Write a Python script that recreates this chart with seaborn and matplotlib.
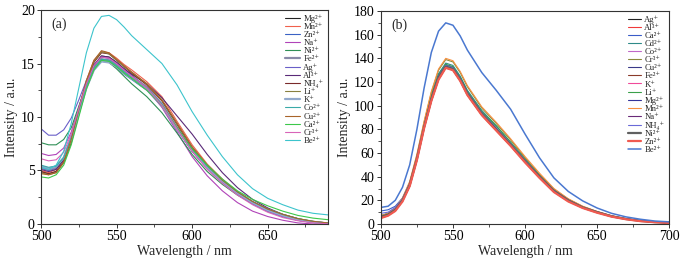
import matplotlib
matplotlib.use("Agg")
import matplotlib.pyplot as plt
import seaborn as sns
from matplotlib.ticker import MultipleLocator

# ---- panel (a) data ----
wl_a = [500, 505, 510, 515, 520, 525, 530, 535, 540, 545, 550, 555, 560,
        570, 580, 590, 600, 610, 620, 630, 640, 650, 660, 670, 680, 690]

ions_a = ["Mg²⁺", "Mn²⁺", "Zn²⁺", "Na⁺", "Ni²⁺", "Fe²⁺", "Ag⁺", "Al³⁺", "NH₄⁺",
          "Li⁺", "K⁺", "Co²⁺", "Cu²⁺", "Ca²⁺", "Cr³⁺", "Be²⁺"]

mg_a = [4.9, 4.7, 4.9, 5.8, 7.6, 10.2, 12.9, 14.8, 15.7, 15.6, 15.1, 14.5, 13.9, 12.7, 11.0, 8.9, 6.8, 5.2, 3.9, 2.8, 1.9, 1.2, 0.7, 0.35, 0.15, 0.02]
mn_a = [5.0, 4.8, 5.1, 6.1, 8.1, 10.8, 13.4, 15.3, 16.1, 16.0, 15.5, 14.9, 14.4, 13.3, 11.9, 9.6, 7.4, 5.6, 4.2, 3.0, 2.0, 1.3, 0.8, 0.4, 0.2, 0.05]
zn_a = [5.2, 5.0, 5.2, 6.0, 7.9, 10.4, 12.7, 14.4, 15.2, 15.1, 14.6, 14.0, 13.5, 12.5, 11.0, 8.8, 6.8, 5.2, 3.9, 2.8, 1.9, 1.2, 0.7, 0.35, 0.15, 0.03]
na_a = [6.6, 6.4, 6.5, 7.1, 8.6, 10.9, 13.2, 14.9, 15.6, 15.5, 15.0, 14.4, 13.8, 12.6, 10.9, 8.6, 6.3, 4.5, 3.1, 2.0, 1.2, 0.7, 0.35, 0.1, 0.0, 0.0]
ni_a = [7.6, 7.4, 7.4, 7.9, 9.0, 11.0, 13.0, 14.6, 15.3, 15.1, 14.5, 13.8, 13.1, 11.9, 10.4, 8.5, 6.5, 4.9, 3.7, 2.7, 1.9, 1.3, 0.8, 0.45, 0.2, 0.05]
fe_a = [5.3, 5.1, 5.3, 6.1, 8.0, 10.5, 12.9, 14.6, 15.4, 15.3, 14.9, 14.3, 13.8, 12.8, 11.2, 9.0, 6.9, 5.3, 4.0, 2.9, 2.0, 1.3, 0.8, 0.4, 0.18, 0.04]
ag_a = [8.9, 8.3, 8.3, 8.8, 9.9, 11.6, 13.4, 14.9, 15.6, 15.5, 15.0, 14.4, 13.8, 12.7, 11.1, 8.9, 6.8, 5.2, 3.9, 2.8, 1.9, 1.2, 0.7, 0.35, 0.15, 0.02]
al_a = [5.1, 4.9, 5.1, 6.0, 7.9, 10.4, 12.9, 14.8, 15.7, 15.6, 15.1, 14.5, 14.0, 13.1, 11.8, 10.1, 8.4, 6.5, 4.8, 3.4, 2.3, 1.5, 0.9, 0.5, 0.2, 0.05]
nh4_a = [4.9, 4.7, 4.9, 5.8, 7.8, 10.5, 13.2, 15.1, 16.0, 15.9, 15.3, 14.7, 14.1, 13.0, 11.5, 9.3, 7.1, 5.4, 4.0, 2.9, 2.0, 1.3, 0.8, 0.4, 0.2, 0.05]
li_a = [4.8, 4.6, 4.8, 5.7, 7.7, 10.5, 13.2, 15.2, 16.1, 15.9, 15.3, 14.7, 14.2, 13.1, 11.6, 9.4, 7.2, 5.5, 4.1, 3.0, 2.1, 1.4, 0.9, 0.5, 0.25, 0.08]
k_a = [5.4, 5.2, 5.4, 6.2, 8.0, 10.4, 12.7, 14.4, 15.2, 15.1, 14.7, 14.1, 13.6, 12.6, 11.1, 8.9, 6.9, 5.3, 4.0, 2.9, 2.0, 1.3, 0.8, 0.4, 0.18, 0.04]
co_a = [5.5, 5.3, 5.4, 6.2, 8.1, 10.6, 12.9, 14.6, 15.4, 15.3, 14.8, 14.2, 13.7, 12.7, 11.2, 9.0, 7.0, 5.4, 4.1, 3.0, 2.1, 1.4, 0.9, 0.5, 0.25, 0.08]
cu_a = [4.7, 4.6, 4.8, 5.8, 7.9, 10.7, 13.4, 15.3, 16.2, 16.0, 15.4, 14.8, 14.2, 13.1, 11.6, 9.4, 7.2, 5.5, 4.1, 3.0, 2.1, 1.4, 0.9, 0.5, 0.25, 0.1]
ca_a = [4.4, 4.3, 4.6, 5.5, 7.4, 10.0, 12.6, 14.4, 15.3, 15.2, 14.7, 14.1, 13.6, 12.5, 11.1, 9.0, 7.0, 5.5, 4.2, 3.1, 2.3, 1.7, 1.2, 0.8, 0.55, 0.4]
cr_a = [6.1, 5.9, 6.0, 6.7, 8.4, 10.8, 13.1, 14.8, 15.6, 15.5, 15.0, 14.4, 13.8, 12.7, 11.1, 8.9, 6.8, 5.1, 3.8, 2.7, 1.8, 1.1, 0.6, 0.3, 0.1, 0.02]
be_a = [5.3, 5.1, 5.5, 6.8, 9.4, 12.7, 16.0, 18.3, 19.4, 19.5, 19.1, 18.4, 17.6, 16.3, 15.0, 13.0, 10.5, 8.3, 6.3, 4.6, 3.3, 2.4, 1.8, 1.3, 1.0, 0.85]

series_a = [mg_a, mn_a, zn_a, na_a, ni_a, fe_a, ag_a, al_a, nh4_a, li_a, k_a,
            co_a, cu_a, ca_a, cr_a, be_a]
colors_a = ["#222222", "#f0604c", "#3a62c4", "#b043b8", "#2f8f55", "#8a8aa8",
            "#6a5fc8", "#5a2a78", "#7a2a2a", "#8a8040", "#93a9cc", "#3aaaa8",
            "#a8642a", "#3cc84a", "#d864b8", "#3cc4cc"]
widths_a = [0.8, 0.8, 0.8, 0.8, 0.8, 1.6, 0.8, 0.8, 0.8, 0.8, 1.6, 0.8,
            0.8, 0.8, 0.8, 0.8]

# ---- panel (b) data ----
wl_b = [500, 505, 510, 515, 520, 525, 530, 535, 540, 545, 550, 555, 560,
        570, 580, 590, 600, 610, 620, 630, 640, 650, 660, 670, 680, 690, 700]

ions_b = ["Ag⁺", "Al³⁺", "Ca²⁺", "Cd²⁺", "Co²⁺", "Cr³⁺", "Cu²⁺", "Fe²⁺", "K⁺",
          "Li⁺", "Mg²⁺", "Mn²⁺", "Na⁺", "NH₄⁺", "Ni²⁺", "Zn²⁺", "Be²⁺"]

ag_b = [6, 8, 12, 20, 33, 55, 82, 106, 124, 133, 131, 122, 110, 93, 80, 67, 53, 40, 28, 20, 14, 10, 6.5, 4.2, 2.6, 1.6, 1.0]
al_b = [5, 7, 11, 19, 32, 54, 81, 104, 122, 132, 130, 121, 109, 92, 79, 66, 52, 39, 27, 19, 13.5, 9.5, 6.2, 4.0, 2.4, 1.5, 0.9]
ca_b = [11, 12, 15, 22, 35, 57, 84, 107, 125, 134, 132, 123, 111, 94, 81, 68, 54, 41, 29, 20.5, 14.5, 10.3, 6.8, 4.4, 2.8, 1.8, 1.2]
cd_b = [7, 9, 13, 21, 34, 57, 85, 109, 127, 136, 134, 125, 113, 96, 83, 69, 55, 41, 29, 20.5, 14.5, 10.2, 6.7, 4.3, 2.7, 1.7, 1.1]
co_b = [6, 8, 12, 20, 33, 56, 83, 107, 125, 134, 132, 123, 111, 94, 81, 68, 54, 40.5, 28.5, 20.2, 14.2, 10.1, 6.6, 4.3, 2.7, 1.7, 1.0]
cr_b = [7, 9, 13, 21, 35, 58, 86, 111, 130, 139, 137, 128, 116, 98, 85, 71, 56, 42, 29.5, 21, 14.8, 10.4, 6.9, 4.5, 2.8, 1.8, 1.1]
cu_b = [6, 8, 12, 20, 33, 55, 83, 106, 125, 134, 132, 123, 111, 93, 80, 67, 53, 40, 28, 20, 14, 10, 6.5, 4.2, 2.6, 1.6, 1.0]
fe_b = [5.5, 7.5, 11.5, 19.5, 32, 54, 81, 104, 122, 132, 130, 121, 109, 92, 79, 66, 52.5, 39.5, 27.5, 19.5, 13.8, 9.8, 6.4, 4.1, 2.5, 1.5, 0.9]
k_b = [6, 8, 12, 20, 33, 55, 82, 105, 124, 133, 131, 122, 110, 93, 80, 67, 53, 40, 28, 20, 14, 10, 6.5, 4.2, 2.6, 1.6, 1.0]
li_b = [6.5, 8.5, 12.5, 20.5, 34, 56, 84, 108, 126, 135, 133, 124, 112, 95, 83, 69, 54.5, 41, 28.5, 20.3, 14.3, 10.1, 6.6, 4.3, 2.7, 1.7, 1.0]
mg_b = [6, 8, 12, 20, 33, 56, 83, 106, 125, 134, 132, 123, 111, 94, 81, 67, 53, 40, 28, 20, 14, 10, 6.5, 4.2, 2.6, 1.6, 1.0]
mn_b = [7, 9, 13.5, 22, 36, 59, 87, 112, 131, 140, 138, 129, 117, 99, 86, 72, 57, 43, 30, 21.3, 15, 10.6, 7, 4.6, 2.9, 1.9, 1.2]
na_b = [6, 8, 12, 20, 33, 55, 82, 105, 124, 133, 131, 122, 110, 93, 80, 67, 53, 40, 28, 20, 14, 10, 6.5, 4.2, 2.6, 1.6, 1.0]
nh4_b = [9, 10, 14, 21, 34, 56, 83, 106, 125, 134, 132, 123, 111, 94, 81, 68, 54, 40.5, 28.5, 20.2, 14.2, 10.1, 6.6, 4.3, 2.7, 1.7, 1.0]
ni_b = [6, 8, 12, 20, 33, 55, 82, 105, 124, 133, 131, 122, 110, 93, 80, 67, 53, 40, 28, 20, 14, 10, 6.5, 4.2, 2.6, 1.6, 1.0]
zn_b = [5, 7, 11, 19, 32, 54, 81, 104, 122, 132, 130, 121, 109, 92, 79, 66, 52, 39, 27, 19, 13.5, 9.5, 6.2, 4.0, 2.4, 1.5, 0.9]
be_b = [14, 15, 20, 31, 50, 80, 115, 145, 163, 170, 168, 159, 147, 128, 113, 97, 76, 56, 39, 27.5, 19.5, 13.5, 9, 6, 4, 2.5, 1.8]

series_b = [ag_b, al_b, ca_b, cd_b, co_b, cr_b, cu_b, fe_b, k_b, li_b, mg_b,
            mn_b, na_b, nh4_b, ni_b, zn_b, be_b]
colors_b = ["#222222", "#f03a3a", "#3a5cc8", "#2e8a88", "#c068c8", "#8a8a3a",
            "#3a3a88", "#8a3a2a", "#f04a9a", "#3aa04a", "#34349a", "#f89040",
            "#6a2a78", "#6a6ad8", "#606060", "#f05a50", "#4a78d0"]
widths_b = [0.8] * 14 + [1.6, 1.6, 1.1]

sns.set_theme(style="ticks")
plt.rcParams["font.family"] = ["Liberation Serif", "DejaVu Serif"]
plt.rcParams["axes.linewidth"] = 0.8

fig = plt.figure(figsize=(6.85, 2.6), dpi=100)
ax_a = fig.add_axes([0.0599, 0.1385, 0.4191, 0.823])
ax_b = fig.add_axes([0.556, 0.1385, 0.421, 0.819])


def draw(ax, wl, series, ions, colors, widths):
    for ys, name, c, lw in zip(series, ions, colors, widths):
        sns.lineplot(x=wl, y=ys, ax=ax, color=c, lw=lw, label=name)


draw(ax_a, wl_a, series_a, ions_a, colors_a, widths_a)
draw(ax_b, wl_b, series_b, ions_b, colors_b, widths_b)

ax_a.set_xlim(500, 690)
ax_a.set_ylim(0, 20)
ax_a.xaxis.set_major_locator(MultipleLocator(50))
ax_a.xaxis.set_minor_locator(MultipleLocator(25))
ax_a.yaxis.set_major_locator(MultipleLocator(5))
ax_a.yaxis.set_minor_locator(MultipleLocator(2.5))

ax_b.set_xlim(500, 700)
ax_b.set_ylim(0, 180)
ax_b.xaxis.set_major_locator(MultipleLocator(50))
ax_b.xaxis.set_minor_locator(MultipleLocator(25))
ax_b.yaxis.set_major_locator(MultipleLocator(20))
ax_b.yaxis.set_minor_locator(MultipleLocator(10))

for ax, tag, hl in [(ax_a, "(a)", 1.8), (ax_b, "(b)", 1.5)]:
    for s in ax.spines.values():
        s.set_visible(True)
        s.set_color("#333333")
    ax.tick_params(which="major", length=3, width=0.7, labelsize=10, pad=1.5, colors="#333333")
    ax.tick_params(which="minor", length=2, width=0.6, colors="#333333")
    ax.tick_params(labelcolor="black")
    ax.set_xlabel("Wavelength / nm", fontsize=10, labelpad=1)
    ax.set_ylabel("Intensity / a.u.", fontsize=10, labelpad=2)
    ax.text(0.035, 0.965, tag, transform=ax.transAxes, fontsize=10, va="top", ha="left")
    ax.legend(loc="upper right", frameon=False, fontsize=6.2, labelspacing=0.0,
              handlelength=hl, handletextpad=0.35, borderaxespad=0.2,
              borderpad=0.35)

fig.savefig("out.png", dpi=100)
